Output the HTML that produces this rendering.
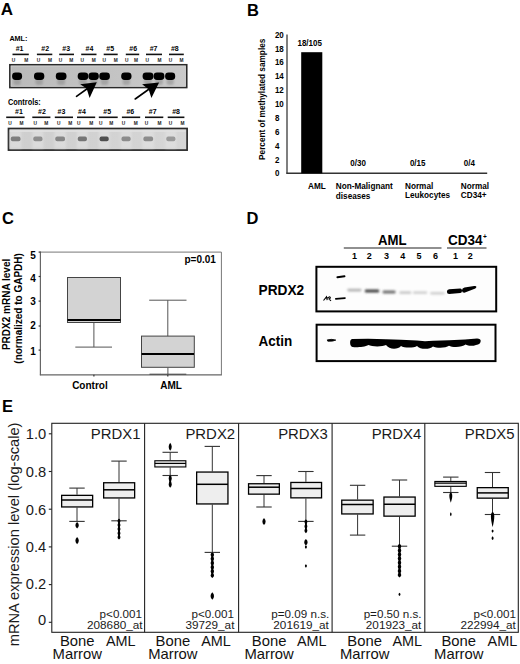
<!DOCTYPE html>
<html><head><meta charset="utf-8"><title>Figure</title>
<style>
html,body{margin:0;padding:0;background:#fff;}
body{width:520px;height:664px;overflow:hidden;}
svg{display:block;font-family:"Liberation Sans", sans-serif;}
</style></head><body>
<svg width="520" height="664" viewBox="0 0 520 664">
<rect x="0" y="0" width="520" height="664" fill="#fff"/>
<defs>
<linearGradient id="gelA" x1="0" y1="0" x2="1" y2="0">
 <stop offset="0" stop-color="#bababa"/><stop offset="0.5" stop-color="#c2c2c2"/><stop offset="1" stop-color="#cacaca"/>
</linearGradient>
<linearGradient id="gelC" x1="0" y1="0" x2="1" y2="0">
 <stop offset="0" stop-color="#cecece"/><stop offset="1" stop-color="#d6d6d6"/>
</linearGradient>
<filter id="bl1" x="-30%" y="-50%" width="160%" height="200%"><feGaussianBlur stdDeviation="0.9"/></filter>
<filter id="bl2" x="-30%" y="-50%" width="160%" height="200%"><feGaussianBlur stdDeviation="0.6"/></filter>
<filter id="bl3" x="-30%" y="-50%" width="160%" height="200%"><feGaussianBlur stdDeviation="1.2"/></filter>
</defs>
<text x="0.8" y="15.4" font-size="17" font-weight="bold" fill="#000" >A</text>
<text transform="translate(9.4,40.5) scale(1.0,1.1)" font-size="7.2" font-weight="bold" fill="#000" >AML:</text>
<text transform="translate(19.6,51.3) scale(1.0,1.15)" font-size="7" font-weight="bold" text-anchor="middle" fill="#000" >#1</text>
<line x1="12.5" y1="54.4" x2="28.8" y2="54.4" stroke="#111" stroke-width="1.6" />
<text x="13.5" y="61.5" font-size="4.8" font-weight="bold" text-anchor="middle" fill="#1a1a1a" >U</text>
<text x="26.3" y="61.5" font-size="4.8" font-weight="bold" text-anchor="middle" fill="#1a1a1a" >M</text>
<text transform="translate(45.2,51.3) scale(1.0,1.15)" font-size="7" font-weight="bold" text-anchor="middle" fill="#000" >#2</text>
<line x1="36.9" y1="54.4" x2="52.3" y2="54.4" stroke="#111" stroke-width="1.6" />
<text x="38.5" y="61.5" font-size="4.8" font-weight="bold" text-anchor="middle" fill="#1a1a1a" >U</text>
<text x="50.0" y="61.5" font-size="4.8" font-weight="bold" text-anchor="middle" fill="#1a1a1a" >M</text>
<text transform="translate(66.2,51.3) scale(1.0,1.15)" font-size="7" font-weight="bold" text-anchor="middle" fill="#000" >#3</text>
<line x1="59.2" y1="54.4" x2="74.0" y2="54.4" stroke="#111" stroke-width="1.6" />
<text x="60.6" y="61.5" font-size="4.8" font-weight="bold" text-anchor="middle" fill="#1a1a1a" >U</text>
<text x="71.2" y="61.5" font-size="4.8" font-weight="bold" text-anchor="middle" fill="#1a1a1a" >M</text>
<text transform="translate(89.4,51.3) scale(1.0,1.15)" font-size="7" font-weight="bold" text-anchor="middle" fill="#000" >#4</text>
<line x1="81.2" y1="54.4" x2="96.5" y2="54.4" stroke="#111" stroke-width="1.6" />
<text x="82.3" y="61.5" font-size="4.8" font-weight="bold" text-anchor="middle" fill="#1a1a1a" >U</text>
<text x="93.7" y="61.5" font-size="4.8" font-weight="bold" text-anchor="middle" fill="#1a1a1a" >M</text>
<text transform="translate(110.2,51.3) scale(1.0,1.15)" font-size="7" font-weight="bold" text-anchor="middle" fill="#000" >#5</text>
<line x1="103.7" y1="54.4" x2="117.7" y2="54.4" stroke="#111" stroke-width="1.6" />
<text x="104.2" y="61.5" font-size="4.8" font-weight="bold" text-anchor="middle" fill="#1a1a1a" >U</text>
<text x="115.8" y="61.5" font-size="4.8" font-weight="bold" text-anchor="middle" fill="#1a1a1a" >M</text>
<text transform="translate(133.2,51.3) scale(1.0,1.15)" font-size="7" font-weight="bold" text-anchor="middle" fill="#000" >#6</text>
<line x1="125.8" y1="54.4" x2="139.2" y2="54.4" stroke="#111" stroke-width="1.6" />
<text x="126.7" y="61.5" font-size="4.8" font-weight="bold" text-anchor="middle" fill="#1a1a1a" >U</text>
<text x="136.0" y="61.5" font-size="4.8" font-weight="bold" text-anchor="middle" fill="#1a1a1a" >M</text>
<text transform="translate(153.6,51.3) scale(1.0,1.15)" font-size="7" font-weight="bold" text-anchor="middle" fill="#000" >#7</text>
<line x1="146.0" y1="54.4" x2="162.0" y2="54.4" stroke="#111" stroke-width="1.6" />
<text x="147.3" y="61.5" font-size="4.8" font-weight="bold" text-anchor="middle" fill="#1a1a1a" >U</text>
<text x="159.4" y="61.5" font-size="4.8" font-weight="bold" text-anchor="middle" fill="#1a1a1a" >M</text>
<text transform="translate(174.8,51.3) scale(1.0,1.15)" font-size="7" font-weight="bold" text-anchor="middle" fill="#000" >#8</text>
<line x1="169.0" y1="54.4" x2="183.8" y2="54.4" stroke="#111" stroke-width="1.6" />
<text x="170.4" y="61.5" font-size="4.8" font-weight="bold" text-anchor="middle" fill="#1a1a1a" >U</text>
<text x="181.5" y="61.5" font-size="4.8" font-weight="bold" text-anchor="middle" fill="#1a1a1a" >M</text>
<rect x="9.9" y="64.8" width="176.8" height="22.7" fill="url(#gelA)" stroke="#2a2a2a" stroke-width="1.7" />
<rect x="11.1" y="66.0" width="174.4" height="20.3" fill="none" stroke="#d2d2d2" stroke-width="0.8" />
<g filter="url(#bl3)">
<rect x="13.6" y="78.5" width="7.0" height="6.5" rx="2" fill="#8a8a8a" opacity="0.55"/>
<rect x="35.5" y="78.5" width="7.3" height="6.5" rx="2" fill="#8a8a8a" opacity="0.55"/>
<rect x="57.300000000000004" y="78.5" width="7.7" height="6.5" rx="2" fill="#8a8a8a" opacity="0.55"/>
<rect x="79.2" y="78.5" width="7.6" height="6.5" rx="2" fill="#8a8a8a" opacity="0.55"/>
<rect x="90.0" y="78.5" width="7.3" height="6.5" rx="2" fill="#8a8a8a" opacity="0.55"/>
<rect x="100.8" y="78.5" width="7.6" height="6.5" rx="2" fill="#8a8a8a" opacity="0.55"/>
<rect x="122.7" y="78.5" width="7.3" height="6.5" rx="2" fill="#8a8a8a" opacity="0.55"/>
<rect x="144.1" y="78.5" width="7.8" height="6.5" rx="2" fill="#8a8a8a" opacity="0.55"/>
<rect x="155.1" y="78.5" width="7.8" height="6.5" rx="2" fill="#8a8a8a" opacity="0.55"/>
<rect x="166.6" y="78.5" width="7.1" height="6.5" rx="2" fill="#8a8a8a" opacity="0.55"/>
</g>
<g filter="url(#bl2)">
<rect x="12.1" y="72.4" width="10.0" height="7.6" rx="3.4" fill="#000"/>
<rect x="34.0" y="72.4" width="10.3" height="7.6" rx="3.4" fill="#000"/>
<rect x="55.800000000000004" y="72.4" width="10.7" height="7.6" rx="3.4" fill="#000"/>
<rect x="77.7" y="72.4" width="10.6" height="7.6" rx="3.4" fill="#000"/>
<rect x="88.5" y="72.4" width="10.3" height="7.6" rx="3.4" fill="#000"/>
<rect x="99.3" y="72.4" width="10.6" height="7.6" rx="3.4" fill="#000"/>
<rect x="121.2" y="72.4" width="10.3" height="7.6" rx="3.4" fill="#000"/>
<rect x="142.6" y="72.4" width="10.8" height="7.6" rx="3.4" fill="#000"/>
<rect x="153.6" y="72.4" width="10.8" height="7.6" rx="3.4" fill="#000"/>
<rect x="165.1" y="72.4" width="10.1" height="7.6" rx="3.4" fill="#000"/>
</g>
<text transform="translate(8.0,105.1) scale(1.0,1.1)" font-size="7.4" font-weight="bold" fill="#000" >Controls:</text>
<text transform="translate(19.0,113.9) scale(1.0,1.15)" font-size="7" font-weight="bold" text-anchor="middle" fill="#000" >#1</text>
<line x1="6.2" y1="117.3" x2="24.6" y2="117.3" stroke="#111" stroke-width="1.6" />
<text x="10.0" y="124.9" font-size="4.8" font-weight="bold" text-anchor="middle" fill="#1a1a1a" >U</text>
<text x="21.5" y="124.9" font-size="4.8" font-weight="bold" text-anchor="middle" fill="#1a1a1a" >M</text>
<text transform="translate(42.0,113.9) scale(1.0,1.15)" font-size="7" font-weight="bold" text-anchor="middle" fill="#000" >#2</text>
<line x1="32.3" y1="117.3" x2="50.4" y2="117.3" stroke="#111" stroke-width="1.6" />
<text x="35.2" y="124.9" font-size="4.8" font-weight="bold" text-anchor="middle" fill="#1a1a1a" >U</text>
<text x="46.2" y="124.9" font-size="4.8" font-weight="bold" text-anchor="middle" fill="#1a1a1a" >M</text>
<text transform="translate(61.4,113.9) scale(1.0,1.15)" font-size="7" font-weight="bold" text-anchor="middle" fill="#000" >#3</text>
<line x1="54.8" y1="117.3" x2="73.0" y2="117.3" stroke="#111" stroke-width="1.6" />
<text x="58.7" y="124.9" font-size="4.8" font-weight="bold" text-anchor="middle" fill="#1a1a1a" >U</text>
<text x="70.2" y="124.9" font-size="4.8" font-weight="bold" text-anchor="middle" fill="#1a1a1a" >M</text>
<text transform="translate(82.0,113.9) scale(1.0,1.15)" font-size="7" font-weight="bold" text-anchor="middle" fill="#000" >#4</text>
<line x1="77.0" y1="117.3" x2="95.2" y2="117.3" stroke="#111" stroke-width="1.6" />
<text x="78.8" y="124.9" font-size="4.8" font-weight="bold" text-anchor="middle" fill="#1a1a1a" >U</text>
<text x="91.3" y="124.9" font-size="4.8" font-weight="bold" text-anchor="middle" fill="#1a1a1a" >M</text>
<text transform="translate(107.2,113.9) scale(1.0,1.15)" font-size="7" font-weight="bold" text-anchor="middle" fill="#000" >#5</text>
<line x1="98.8" y1="117.3" x2="117.7" y2="117.3" stroke="#111" stroke-width="1.6" />
<text x="100.8" y="124.9" font-size="4.8" font-weight="bold" text-anchor="middle" fill="#1a1a1a" >U</text>
<text x="111.3" y="124.9" font-size="4.8" font-weight="bold" text-anchor="middle" fill="#1a1a1a" >M</text>
<text transform="translate(130.3,113.9) scale(1.0,1.15)" font-size="7" font-weight="bold" text-anchor="middle" fill="#000" >#6</text>
<line x1="121.9" y1="117.3" x2="140.2" y2="117.3" stroke="#111" stroke-width="1.6" />
<text x="123.5" y="124.9" font-size="4.8" font-weight="bold" text-anchor="middle" fill="#1a1a1a" >U</text>
<text x="135.8" y="124.9" font-size="4.8" font-weight="bold" text-anchor="middle" fill="#1a1a1a" >M</text>
<text transform="translate(152.7,113.9) scale(1.0,1.15)" font-size="7" font-weight="bold" text-anchor="middle" fill="#000" >#7</text>
<line x1="145.0" y1="117.3" x2="163.3" y2="117.3" stroke="#111" stroke-width="1.6" />
<text x="146.5" y="124.9" font-size="4.8" font-weight="bold" text-anchor="middle" fill="#1a1a1a" >U</text>
<text x="159.4" y="124.9" font-size="4.8" font-weight="bold" text-anchor="middle" fill="#1a1a1a" >M</text>
<text transform="translate(176.1,113.9) scale(1.0,1.15)" font-size="7" font-weight="bold" text-anchor="middle" fill="#000" >#8</text>
<line x1="167.7" y1="117.3" x2="184.4" y2="117.3" stroke="#111" stroke-width="1.6" />
<text x="170.4" y="124.9" font-size="4.8" font-weight="bold" text-anchor="middle" fill="#1a1a1a" >U</text>
<text x="182.5" y="124.9" font-size="4.8" font-weight="bold" text-anchor="middle" fill="#1a1a1a" >M</text>
<rect x="8.5" y="128.5" width="178.6" height="21.6" fill="url(#gelC)" stroke="#2a2a2a" stroke-width="1.7" />
<rect x="9.8" y="129.8" width="176.0" height="2.2" fill="#dedede" stroke="none" stroke-width="1" />
<g filter="url(#bl3)">
<rect x="9.8" y="131" width="11.7" height="17.5" fill="#e2e2e2" opacity="0.6"/>
<rect x="32.3" y="131" width="11.2" height="17.5" fill="#e2e2e2" opacity="0.6"/>
<rect x="54.3" y="131" width="11.7" height="17.5" fill="#e2e2e2" opacity="0.6"/>
<rect x="76.8" y="131" width="11.1" height="17.5" fill="#e2e2e2" opacity="0.6"/>
<rect x="98.6" y="131" width="11.1" height="17.5" fill="#e2e2e2" opacity="0.6"/>
<rect x="120.5" y="131" width="11.1" height="17.5" fill="#e2e2e2" opacity="0.6"/>
<rect x="142.4" y="131" width="11.7" height="17.5" fill="#e2e2e2" opacity="0.6"/>
<rect x="165.3" y="131" width="11.1" height="17.5" fill="#e2e2e2" opacity="0.6"/>
</g>
<g filter="url(#bl2)">
<rect x="10.8" y="136.6" width="9.7" height="4.6" rx="1.8" fill="#7e7e7e"/>
<rect x="33.3" y="136.6" width="9.2" height="4.6" rx="1.8" fill="#8e8e8e"/>
<rect x="55.3" y="136.6" width="9.7" height="4.6" rx="1.8" fill="#868686"/>
<rect x="77.8" y="136.6" width="9.1" height="4.6" rx="1.8" fill="#747474"/>
<rect x="99.6" y="136.6" width="9.1" height="4.6" rx="1.8" fill="#505050"/>
<rect x="121.5" y="136.6" width="9.1" height="4.6" rx="1.8" fill="#8c8c8c"/>
<rect x="143.4" y="136.6" width="9.7" height="4.6" rx="1.8" fill="#8c8c8c"/>
<rect x="166.3" y="136.6" width="9.1" height="4.6" rx="1.8" fill="#9a9a9a"/>
</g>
<path d="M96.8,82.2 L80.2,84.2 L86.6,88.6 L89.6,97.9 Z" fill="#000"/>
<line x1="76.5" y1="96.4" x2="87.5" y2="88.5" stroke="#000" stroke-width="1.6" stroke-linecap="round"/>
<path d="M159.1,82.6 L142.1,84.3 L148.6,89.2 L151.4,97.9 Z" fill="#000"/>
<line x1="135.2" y1="99.0" x2="148.5" y2="89.5" stroke="#000" stroke-width="1.6" stroke-linecap="round"/>
<text x="247" y="15.6" font-size="16.5" font-weight="bold" fill="#000" >B</text>
<line x1="287.0" y1="34.6" x2="287.0" y2="173.6" stroke="#555" stroke-width="1.5" />
<line x1="286.3" y1="173.3" x2="487.2" y2="173.3" stroke="#333" stroke-width="1.4" />
<text transform="translate(274.9,176.4) scale(1.0,1.15)" font-size="8" font-weight="bold" fill="#000" >0</text>
<text transform="translate(274.9,162.53) scale(1.0,1.15)" font-size="8" font-weight="bold" fill="#000" >2</text>
<text transform="translate(274.9,148.66) scale(1.0,1.15)" font-size="8" font-weight="bold" fill="#000" >4</text>
<text transform="translate(274.9,134.79) scale(1.0,1.15)" font-size="8" font-weight="bold" fill="#000" >6</text>
<text transform="translate(274.9,120.92) scale(1.0,1.15)" font-size="8" font-weight="bold" fill="#000" >8</text>
<text transform="translate(274.9,107.05) scale(1.0,1.15)" font-size="8" font-weight="bold" fill="#000" >10</text>
<text transform="translate(274.9,93.18) scale(1.0,1.15)" font-size="8" font-weight="bold" fill="#000" >12</text>
<text transform="translate(274.9,79.31) scale(1.0,1.15)" font-size="8" font-weight="bold" fill="#000" >14</text>
<text transform="translate(274.9,65.44) scale(1.0,1.15)" font-size="8" font-weight="bold" fill="#000" >16</text>
<text transform="translate(274.9,51.57) scale(1.0,1.15)" font-size="8" font-weight="bold" fill="#000" >18</text>
<text transform="translate(274.9,37.7) scale(1.0,1.15)" font-size="8" font-weight="bold" fill="#000" >20</text>
<rect x="301.2" y="52.2" width="21.1" height="121.1" fill="#000" stroke="none" stroke-width="1" />
<text transform="translate(309.7,46.0) scale(1.0,1.15)" font-size="8" font-weight="bold" text-anchor="middle" fill="#000" >18/105</text>
<text transform="translate(358.1,165.8) scale(1.0,1.15)" font-size="8" font-weight="bold" text-anchor="middle" fill="#000" >0/30</text>
<text transform="translate(417.7,165.8) scale(1.0,1.15)" font-size="8" font-weight="bold" text-anchor="middle" fill="#000" >0/15</text>
<text transform="translate(469.3,165.8) scale(1.0,1.15)" font-size="8" font-weight="bold" text-anchor="middle" fill="#000" >0/4</text>
<text transform="translate(308.1,188.8) scale(1.0,1.15)" font-size="8.2" font-weight="bold" fill="#000" >AML</text>
<text transform="translate(335.8,188.8) scale(1.0,1.15)" font-size="8.2" font-weight="bold" fill="#000" >Non-Malignant</text>
<text transform="translate(335.8,198.5) scale(1.0,1.15)" font-size="8.2" font-weight="bold" fill="#000" >diseases</text>
<text transform="translate(405.0,188.6) scale(1.0,1.15)" font-size="8.2" font-weight="bold" fill="#000" >Normal</text>
<text transform="translate(405.0,198.4) scale(1.0,1.15)" font-size="8.2" font-weight="bold" fill="#000" >Leukocytes</text>
<text transform="translate(460.8,188.6) scale(1.0,1.15)" font-size="8.2" font-weight="bold" fill="#000" >Normal</text>
<text transform="translate(460.8,198.4) scale(1.0,1.15)" font-size="8.2" font-weight="bold" fill="#000" >CD34+</text>
<text transform="translate(264.6,99.3) rotate(-90) scale(1,1.1)" font-size="8.25" font-weight="bold" text-anchor="middle">Percent of methylated samples</text>
<text x="2" y="224.2" font-size="16.5" font-weight="bold" fill="#000" >C</text>
<line x1="40.4" y1="252.1" x2="221.4" y2="252.1" stroke="#777" stroke-width="1" />
<line x1="221.4" y1="252.1" x2="221.4" y2="374.8" stroke="#777" stroke-width="1" />
<line x1="40.4" y1="251.6" x2="40.4" y2="375.3" stroke="#666" stroke-width="1.2" />
<line x1="39.9" y1="374.8" x2="221.9" y2="374.8" stroke="#666" stroke-width="1.2" />
<line x1="38.6" y1="350.1" x2="40.4" y2="350.1" stroke="#333" stroke-width="1.2" />
<text x="35.9" y="354.5" font-size="10" font-weight="bold" text-anchor="end" fill="#000" >1</text>
<line x1="38.6" y1="326.0" x2="40.4" y2="326.0" stroke="#333" stroke-width="1.2" />
<text x="35.9" y="329.1" font-size="10" font-weight="bold" text-anchor="end" fill="#000" >2</text>
<line x1="38.6" y1="301.1" x2="40.4" y2="301.1" stroke="#333" stroke-width="1.2" />
<text x="35.9" y="304.9" font-size="10" font-weight="bold" text-anchor="end" fill="#000" >3</text>
<line x1="38.6" y1="276.5" x2="40.4" y2="276.5" stroke="#333" stroke-width="1.2" />
<text x="35.9" y="281.9" font-size="10" font-weight="bold" text-anchor="end" fill="#000" >4</text>
<line x1="38.6" y1="252.1" x2="40.4" y2="252.1" stroke="#333" stroke-width="1.2" />
<text x="35.9" y="258.9" font-size="10" font-weight="bold" text-anchor="end" fill="#000" >5</text>
<line x1="93.9" y1="374.8" x2="93.9" y2="376.6" stroke="#333" stroke-width="1.2" />
<line x1="167.8" y1="374.8" x2="167.8" y2="376.6" stroke="#333" stroke-width="1.2" />
<line x1="93.9" y1="323.0" x2="93.9" y2="347.1" stroke="#555" stroke-width="1" />
<line x1="75.3" y1="347.1" x2="112.0" y2="347.1" stroke="#555" stroke-width="1" />
<rect x="67.5" y="277.5" width="53.0" height="45.0" fill="#d3d3d3" stroke="#444" stroke-width="1" />
<line x1="67.5" y1="319.9" x2="120.5" y2="319.9" stroke="#000" stroke-width="2.0" />
<line x1="167.8" y1="300.2" x2="167.8" y2="336.6" stroke="#555" stroke-width="1" />
<line x1="149.2" y1="300.2" x2="186.5" y2="300.2" stroke="#555" stroke-width="1" />
<line x1="167.9" y1="367.6" x2="167.9" y2="374.2" stroke="#555" stroke-width="1" />
<line x1="149.5" y1="374.2" x2="186.3" y2="374.2" stroke="#444" stroke-width="1" />
<rect x="141.5" y="336.1" width="52.8" height="31.2" fill="#d3d3d3" stroke="#444" stroke-width="1" />
<line x1="141.6" y1="354.0" x2="194.0" y2="354.0" stroke="#000" stroke-width="2.0" />
<text x="215.9" y="262.6" font-size="10" font-weight="bold" text-anchor="end" fill="#000" >p=0.01</text>
<text x="89.9" y="389.4" font-size="10" font-weight="bold" text-anchor="middle" fill="#000" >Control</text>
<text x="171.1" y="388.8" font-size="10" font-weight="bold" text-anchor="middle" fill="#000" >AML</text>
<text transform="translate(10.0,304.4) rotate(-90)" font-size="10" font-weight="bold" text-anchor="middle">PRDX2 mRNA level</text>
<text transform="translate(22.2,308.4) rotate(-90)" font-size="10" font-weight="bold" text-anchor="middle">(normalized to GAPDH)</text>
<text x="246.5" y="224.2" font-size="16.5" font-weight="bold" fill="#000" >D</text>
<text transform="translate(392.3,244.8) scale(1.0,1.08)" font-size="13.2" font-weight="bold" text-anchor="middle" fill="#000" >AML</text>
<text transform="translate(447.9,244.9) scale(1,1.1)" font-size="13.5" font-weight="bold">CD34<tspan font-size="6.5" dx="0.6" dy="-5.2">+</tspan></text>
<line x1="343.8" y1="248.0" x2="441.5" y2="248.0" stroke="#222" stroke-width="1.2" />
<line x1="447.0" y1="248.0" x2="486.5" y2="248.0" stroke="#222" stroke-width="1.2" />
<text x="354.4" y="259.4" font-size="9" font-weight="bold" text-anchor="middle" fill="#000" >1</text>
<text x="369.2" y="259.4" font-size="9" font-weight="bold" text-anchor="middle" fill="#000" >2</text>
<text x="386.4" y="259.4" font-size="9" font-weight="bold" text-anchor="middle" fill="#000" >3</text>
<text x="402.7" y="259.4" font-size="9" font-weight="bold" text-anchor="middle" fill="#000" >4</text>
<text x="419.0" y="259.4" font-size="9" font-weight="bold" text-anchor="middle" fill="#000" >5</text>
<text x="435.6" y="259.4" font-size="9" font-weight="bold" text-anchor="middle" fill="#000" >6</text>
<text x="455.6" y="259.4" font-size="9" font-weight="bold" text-anchor="middle" fill="#000" >1</text>
<text x="470.2" y="259.4" font-size="9" font-weight="bold" text-anchor="middle" fill="#000" >2</text>
<text transform="translate(258.5,294.8) scale(1.0,1.1)" font-size="13.7" font-weight="bold" fill="#000" >PRDX2</text>
<text transform="translate(258.5,346.4) scale(1.0,1.1)" font-size="13.5" font-weight="bold" fill="#000" >Actin</text>
<rect x="316.4" y="266.8" width="179.8" height="44.6" fill="#fdfdfd" stroke="#000" stroke-width="2" />
<rect x="316.6" y="324.7" width="178.9" height="36.4" fill="#fdfdfd" stroke="#000" stroke-width="2" />
<g filter="url(#bl2)">
<path d="M337.4,277.3 L344.5,276.3" stroke="#000" stroke-width="1.9" stroke-linecap="round"/>
<path d="M335.8,298.9 L345,298.1" stroke="#000" stroke-width="1.6" stroke-linecap="round"/>
<path d="M323.5,300.5 L326.5,296.8 L327.2,300.2 M326.6,298.4 L329.5,296.8 Q331.5,297.8 329,299 L331,300.8" stroke="#000" stroke-width="1.1" fill="none"/>
</g>
<g filter="url(#bl1)">
<rect x="347.2" y="288.7" width="14.4" height="2.8" rx="1.4" fill="#b4b4b4"/>
<rect x="364.8" y="289.4" width="14.4" height="3.2" rx="1.4" fill="#404040"/>
<rect x="382.6" y="290.4" width="13.0" height="3.2" rx="1.4" fill="#6e6e6e"/>
<rect x="399.2" y="291.3" width="12.2" height="2.8" rx="1.4" fill="#cacaca"/>
<rect x="412.9" y="291.3" width="14.4" height="2.8" rx="1.4" fill="#d2d2d2"/>
<rect x="430.2" y="292.1" width="14.4" height="2.4" rx="1.4" fill="#cecece"/>
</g>
<g filter="url(#bl2)">
<path d="M446.9,291.7 Q446.9,289.5 449.2,289.3 L460.3,288.6 Q461.9,288.6 462.1,290.7 Q461.9,292.9 460.3,293.0 L449.2,293.9 Q446.9,293.9 446.9,291.7 Z" fill="#000"/>
<path d="M461.9,290.4 Q462.1,287.9 464.5,287.5 L474.2,286.0 Q476.7,285.8 476.4,287.3 Q475.8,288.7 473.4,289.3 L465.0,292.6 Q462.1,293.0 461.9,290.4 Z" fill="#000"/>
<path d="M327.2,339.9 Q331.5,338.7 335.8,340.1 Q333,341.6 327.8,341.2 Z" fill="#000" stroke="#000" stroke-width="0.8"/>
<path d="M350.1,342.6 Q350.1,338.9 352.5,338.9 L368,338.7 L386,339.2 L401,339.8 L417,340.6 L425,341.3 L433,340.8 L449,340.2 L465,339.6 L477,338.5 Q480.9,338.6 480.7,341.0 Q480.6,344.3 476,345.0 C473.0,346.2 468.5,346.2 465.5,344.6 C462.5,347.6 452.0,347.6 449.0,345.8 C446.0,348.3 436.0,348.3 433.0,346.4 C430.0,349.7 420.0,349.7 417.0,346.0 C414.0,348.0 404.0,348.0 401.0,346.0 C398.0,349.7 389.0,349.7 386.0,345.0 C383.0,346.9 371.5,346.9 368.5,345.0 C364.5,347.4 355,347.4 352.5,347.0 Q350.1,346.4 350.1,342.6 Z" fill="#000"/>
</g>
<text x="2.0" y="412.4" font-size="16.5" font-weight="bold" fill="#000" >E</text>
<rect x="51.8" y="423.3" width="466.49999999999994" height="208.99999999999994" fill="none" stroke="#222" stroke-width="1.1" />
<line x1="144.6" y1="423.3" x2="144.6" y2="632.3" stroke="#222" stroke-width="1.1" />
<line x1="238.6" y1="423.3" x2="238.6" y2="632.3" stroke="#222" stroke-width="1.1" />
<line x1="332.1" y1="423.3" x2="332.1" y2="632.3" stroke="#222" stroke-width="1.1" />
<line x1="424.8" y1="423.3" x2="424.8" y2="632.3" stroke="#222" stroke-width="1.1" />
<line x1="48.8" y1="622.3" x2="51.8" y2="622.3" stroke="#222" stroke-width="1.1" />
<text transform="translate(46.2,624.6) scale(1.05,1.0)" font-size="14" text-anchor="end" fill="#1a1a1a" >0</text>
<line x1="48.8" y1="584.6" x2="51.8" y2="584.6" stroke="#222" stroke-width="1.1" />
<text transform="translate(46.2,588.6) scale(1.05,1.0)" font-size="14" text-anchor="end" fill="#1a1a1a" >0.2</text>
<line x1="48.8" y1="546.9" x2="51.8" y2="546.9" stroke="#222" stroke-width="1.1" />
<text transform="translate(46.2,551.8) scale(1.05,1.0)" font-size="14" text-anchor="end" fill="#1a1a1a" >0.4</text>
<line x1="48.8" y1="509.2" x2="51.8" y2="509.2" stroke="#222" stroke-width="1.1" />
<text transform="translate(46.2,514.5) scale(1.05,1.0)" font-size="14" text-anchor="end" fill="#1a1a1a" >0.6</text>
<line x1="48.8" y1="471.5" x2="51.8" y2="471.5" stroke="#222" stroke-width="1.1" />
<text transform="translate(46.2,476.8) scale(1.05,1.0)" font-size="14" text-anchor="end" fill="#1a1a1a" >0.8</text>
<line x1="48.8" y1="433.8" x2="51.8" y2="433.8" stroke="#222" stroke-width="1.1" />
<text transform="translate(46.2,438.9) scale(1.05,1.0)" font-size="14" text-anchor="end" fill="#1a1a1a" >1.0</text>
<text transform="translate(18.6,534.4) rotate(-90)" font-size="14.65" text-anchor="middle" fill="#1a1a1a">mRNA expression level (log-scale)</text>
<text transform="translate(140.5,438.8) scale(1.035,1.0)" font-size="14.4" text-anchor="end" fill="#1a1a1a" >PRDX1</text>
<text transform="translate(142.05,617.9) scale(1.05,1.0)" font-size="11.1" text-anchor="end" fill="#1a1a1a" >p&lt;0.001</text>
<text transform="translate(142.5,628.7) scale(1.03,1.0)" font-size="11.4" text-anchor="end" fill="#1a1a1a" >208680_at</text>
<text transform="translate(235.1,438.8) scale(1.035,1.0)" font-size="14.4" text-anchor="end" fill="#1a1a1a" >PRDX2</text>
<text transform="translate(233.9,617.9) scale(1.05,1.0)" font-size="11.1" text-anchor="end" fill="#1a1a1a" >p&lt;0.001</text>
<text transform="translate(234.4,628.7) scale(1.03,1.0)" font-size="11.4" text-anchor="end" fill="#1a1a1a" >39729_at</text>
<text transform="translate(327.8,438.8) scale(1.035,1.0)" font-size="14.4" text-anchor="end" fill="#1a1a1a" >PRDX3</text>
<text transform="translate(329.2,617.9) scale(1.05,1.0)" font-size="11.1" text-anchor="end" fill="#1a1a1a" >p=0.09 n.s.</text>
<text transform="translate(328.8,628.7) scale(1.03,1.0)" font-size="11.4" text-anchor="end" fill="#1a1a1a" >201619_at</text>
<text transform="translate(421.3,438.8) scale(1.035,1.0)" font-size="14.4" text-anchor="end" fill="#1a1a1a" >PRDX4</text>
<text transform="translate(421.6,617.9) scale(1.05,1.0)" font-size="11.1" text-anchor="end" fill="#1a1a1a" >p=0.50 n.s.</text>
<text transform="translate(421.3,628.7) scale(1.03,1.0)" font-size="11.4" text-anchor="end" fill="#1a1a1a" >201923_at</text>
<text transform="translate(514.5,438.8) scale(1.035,1.0)" font-size="14.4" text-anchor="end" fill="#1a1a1a" >PRDX5</text>
<text transform="translate(516.0,617.9) scale(1.05,1.0)" font-size="11.1" text-anchor="end" fill="#1a1a1a" >p&lt;0.001</text>
<text transform="translate(515.9,628.7) scale(1.03,1.0)" font-size="11.4" text-anchor="end" fill="#1a1a1a" >222994_at</text>
<line x1="77.0" y1="488.1" x2="77.0" y2="494.7" stroke="#333" stroke-width="1" />
<line x1="77.0" y1="507.6" x2="77.0" y2="521.4" stroke="#333" stroke-width="1" />
<line x1="69.3" y1="488.1" x2="84.7" y2="488.1" stroke="#333" stroke-width="1.1" />
<line x1="69.3" y1="521.4" x2="84.7" y2="521.4" stroke="#333" stroke-width="1.1" />
<rect x="61.65" y="495.35" width="31.0" height="11.6" fill="#eeeeee" stroke="#000" stroke-width="1.3" />
<line x1="61.65" y1="500.0" x2="92.64999999999999" y2="500.0" stroke="#000" stroke-width="1.5" />
<path d="M77.1,521.9 C79.41,523.75 79.41,526.65 77.1,528.5 C74.79,526.65 74.79,523.75 77.1,521.9 Z" fill="#000"/>
<path d="M77.1,536.9 C79.41,538.94 79.41,542.16 77.1,544.2 C74.79,542.16 74.79,538.94 77.1,536.9 Z" fill="#000"/>
<line x1="119.0" y1="461.1" x2="119.0" y2="482.1" stroke="#333" stroke-width="1" />
<line x1="119.0" y1="498.6" x2="119.0" y2="520.8" stroke="#333" stroke-width="1" />
<line x1="111.3" y1="461.1" x2="126.7" y2="461.1" stroke="#333" stroke-width="1.1" />
<line x1="111.3" y1="520.8" x2="126.7" y2="520.8" stroke="#333" stroke-width="1.1" />
<rect x="103.65" y="482.75" width="31.0" height="15.2" fill="#eeeeee" stroke="#000" stroke-width="1.3" />
<line x1="103.65" y1="489.8" x2="134.65" y2="489.8" stroke="#000" stroke-width="1.5" />
<rect x="118.1" y="519.5" width="1.8" height="17.8" fill="#000"/>
<path d="M119.0,518.5 C120.97,519.86 120.97,522.0 119.0,523.36 C117.03,522.0 117.03,519.86 119.0,518.5 Z" fill="#000"/>
<path d="M119.0,522.56 C120.97,523.92 120.97,526.06 119.0,527.42 C117.03,526.06 117.03,523.92 119.0,522.56 Z" fill="#000"/>
<path d="M119.0,526.62 C120.97,527.98 120.97,530.12 119.0,531.48 C117.03,530.12 117.03,527.98 119.0,526.62 Z" fill="#000"/>
<path d="M119.0,530.68 C120.97,532.04 120.97,534.18 119.0,535.54 C117.03,534.18 117.03,532.04 119.0,530.68 Z" fill="#000"/>
<path d="M119.0,534.74 C120.97,536.1 120.97,538.24 119.0,539.6 C117.03,538.24 117.03,536.1 119.0,534.74 Z" fill="#000"/>
<line x1="170.2" y1="452.3" x2="170.2" y2="460.2" stroke="#333" stroke-width="1" />
<line x1="170.2" y1="467.5" x2="170.2" y2="475.5" stroke="#333" stroke-width="1" />
<line x1="162.5" y1="452.3" x2="177.89999999999998" y2="452.3" stroke="#333" stroke-width="1.1" />
<line x1="162.5" y1="475.5" x2="177.89999999999998" y2="475.5" stroke="#333" stroke-width="1.1" />
<rect x="154.85" y="460.75" width="31.0" height="6.2" fill="#eeeeee" stroke="#000" stroke-width="1.1" />
<line x1="154.85000000000002" y1="463.4" x2="185.85" y2="463.4" stroke="#000" stroke-width="1.2" />
<path d="M170.2,442.7 C172.24,444.97 172.24,448.53 170.2,450.8 C168.16,448.53 168.16,444.97 170.2,442.7 Z" fill="#000"/>
<rect x="169.27" y="476.0" width="1.86" height="9.5" fill="#000"/>
<path d="M170.2,475.0 C172.24,476.9 172.24,479.9 170.2,481.8 C168.16,479.9 168.16,476.9 170.2,475.0 Z" fill="#000"/>
<path d="M170.2,481.0 C172.24,482.9 172.24,485.9 170.2,487.8 C168.16,485.9 168.16,482.9 170.2,481.0 Z" fill="#000"/>
<line x1="212.3" y1="446.4" x2="212.3" y2="471.4" stroke="#333" stroke-width="1" />
<line x1="212.3" y1="504.6" x2="212.3" y2="552.4" stroke="#333" stroke-width="1" />
<line x1="204.60000000000002" y1="446.4" x2="220.0" y2="446.4" stroke="#333" stroke-width="1.1" />
<line x1="204.60000000000002" y1="552.4" x2="220.0" y2="552.4" stroke="#333" stroke-width="1.1" />
<rect x="196.65" y="472.05" width="31.3" height="31.9" fill="#eeeeee" stroke="#000" stroke-width="1.3" />
<line x1="196.65" y1="484.3" x2="227.95" y2="484.3" stroke="#000" stroke-width="1.5" />
<rect x="211.25" y="553.2" width="2.11" height="22.5" fill="#000"/>
<path d="M212.3,552.2 C214.61,553.59 214.61,555.78 212.3,557.17 C209.99,555.78 209.99,553.59 212.3,552.2 Z" fill="#000"/>
<path d="M212.3,556.37 C214.61,557.76 214.61,559.94 212.3,561.33 C209.99,559.94 209.99,557.76 212.3,556.37 Z" fill="#000"/>
<path d="M212.3,560.53 C214.61,561.92 214.61,564.11 212.3,565.5 C209.99,564.11 209.99,561.92 212.3,560.53 Z" fill="#000"/>
<path d="M212.3,564.7 C214.61,566.09 214.61,568.28 212.3,569.67 C209.99,568.28 209.99,566.09 212.3,564.7 Z" fill="#000"/>
<path d="M212.3,568.87 C214.61,570.26 214.61,572.44 212.3,573.83 C209.99,572.44 209.99,570.26 212.3,568.87 Z" fill="#000"/>
<path d="M212.3,573.03 C214.61,574.42 214.61,576.61 212.3,578.0 C209.99,576.61 209.99,574.42 212.3,573.03 Z" fill="#000"/>
<path d="M212.3,592.3 C214.61,594.37 214.61,597.63 212.3,599.7 C209.99,597.63 209.99,594.37 212.3,592.3 Z" fill="#000"/>
<line x1="264.0" y1="475.6" x2="264.0" y2="483.1" stroke="#333" stroke-width="1" />
<line x1="264.0" y1="494.8" x2="264.0" y2="507.0" stroke="#333" stroke-width="1" />
<line x1="256.3" y1="475.6" x2="271.7" y2="475.6" stroke="#333" stroke-width="1.1" />
<line x1="256.3" y1="507.0" x2="271.7" y2="507.0" stroke="#333" stroke-width="1.1" />
<rect x="248.55" y="483.75" width="30.8" height="10.4" fill="#eeeeee" stroke="#000" stroke-width="1.3" />
<line x1="248.55" y1="487.2" x2="279.35" y2="487.2" stroke="#000" stroke-width="1.5" />
<path d="M264.0,517.9 C266.18,519.92 266.18,523.08 264.0,525.1 C261.82,523.08 261.82,519.92 264.0,517.9 Z" fill="#000"/>
<line x1="305.9" y1="471.5" x2="305.9" y2="481.8" stroke="#333" stroke-width="1" />
<line x1="305.9" y1="498.5" x2="305.9" y2="521.4" stroke="#333" stroke-width="1" />
<line x1="298.2" y1="471.5" x2="313.59999999999997" y2="471.5" stroke="#333" stroke-width="1.1" />
<line x1="298.2" y1="521.4" x2="313.59999999999997" y2="521.4" stroke="#333" stroke-width="1.1" />
<rect x="290.85" y="482.45" width="30.7" height="15.4" fill="#eeeeee" stroke="#000" stroke-width="1.3" />
<line x1="290.84999999999997" y1="488.5" x2="321.55" y2="488.5" stroke="#000" stroke-width="1.5" />
<rect x="305.0" y="520.3" width="1.8" height="10.7" fill="#000"/>
<path d="M305.9,519.3 C307.87,520.76 307.87,523.04 305.9,524.5 C303.93,523.04 303.93,520.76 305.9,519.3 Z" fill="#000"/>
<path d="M305.9,523.7 C307.87,525.16 307.87,527.44 305.9,528.9 C303.93,527.44 303.93,525.16 305.9,523.7 Z" fill="#000"/>
<path d="M305.9,528.1 C307.87,529.56 307.87,531.84 305.9,533.3 C303.93,531.84 303.93,529.56 305.9,528.1 Z" fill="#000"/>
<path d="M305.9,538.9 C308.21,540.78 308.21,543.72 305.9,545.6 C303.59,543.72 303.59,540.78 305.9,538.9 Z" fill="#000"/>
<path d="M305.9,545.2 C307.26,546.21 307.26,547.79 305.9,548.8 C304.54,547.79 304.54,546.21 305.9,545.2 Z" fill="#000"/>
<path d="M305.9,564.3 C307.26,565.25 307.26,566.75 305.9,567.7 C304.54,566.75 304.54,565.25 305.9,564.3 Z" fill="#000"/>
<line x1="357.6" y1="485.3" x2="357.6" y2="499.5" stroke="#333" stroke-width="1" />
<line x1="357.6" y1="514.6" x2="357.6" y2="535.1" stroke="#333" stroke-width="1" />
<line x1="349.90000000000003" y1="485.3" x2="365.3" y2="485.3" stroke="#333" stroke-width="1.1" />
<line x1="349.90000000000003" y1="535.1" x2="365.3" y2="535.1" stroke="#333" stroke-width="1.1" />
<rect x="341.75" y="500.15" width="31.4" height="13.8" fill="#eeeeee" stroke="#000" stroke-width="1.3" />
<line x1="341.75" y1="504.6" x2="373.15000000000003" y2="504.6" stroke="#000" stroke-width="1.5" />
<line x1="399.5" y1="480.0" x2="399.5" y2="496.4" stroke="#333" stroke-width="1" />
<line x1="399.5" y1="516.8" x2="399.5" y2="546.2" stroke="#333" stroke-width="1" />
<line x1="391.8" y1="480.0" x2="407.2" y2="480.0" stroke="#333" stroke-width="1.1" />
<line x1="391.8" y1="546.2" x2="407.2" y2="546.2" stroke="#333" stroke-width="1.1" />
<rect x="383.95" y="497.05" width="31.2" height="19.1" fill="#eeeeee" stroke="#000" stroke-width="1.3" />
<line x1="383.95" y1="504.2" x2="415.15000000000003" y2="504.2" stroke="#000" stroke-width="1.5" />
<rect x="398.42" y="544.8" width="2.17" height="30.3" fill="#000"/>
<path d="M399.5,543.8 C401.88,545.17 401.88,547.33 399.5,548.7 C397.12,547.33 397.12,545.17 399.5,543.8 Z" fill="#000"/>
<path d="M399.5,547.9 C401.88,549.27 401.88,551.43 399.5,552.8 C397.12,551.43 397.12,549.27 399.5,547.9 Z" fill="#000"/>
<path d="M399.5,552.0 C401.88,553.37 401.88,555.53 399.5,556.9 C397.12,555.53 397.12,553.37 399.5,552.0 Z" fill="#000"/>
<path d="M399.5,556.1 C401.88,557.47 401.88,559.63 399.5,561.0 C397.12,559.63 397.12,557.47 399.5,556.1 Z" fill="#000"/>
<path d="M399.5,560.2 C401.88,561.57 401.88,563.73 399.5,565.1 C397.12,563.73 397.12,561.57 399.5,560.2 Z" fill="#000"/>
<path d="M399.5,564.3 C401.88,565.67 401.88,567.83 399.5,569.2 C397.12,567.83 397.12,565.67 399.5,564.3 Z" fill="#000"/>
<path d="M399.5,568.4 C401.88,569.77 401.88,571.93 399.5,573.3 C397.12,571.93 397.12,569.77 399.5,568.4 Z" fill="#000"/>
<path d="M399.5,572.5 C401.88,573.87 401.88,576.03 399.5,577.4 C397.12,576.03 397.12,573.87 399.5,572.5 Z" fill="#000"/>
<path d="M399.5,592.7 C400.86,593.65 400.86,595.15 399.5,596.1 C398.14,595.15 398.14,593.65 399.5,592.7 Z" fill="#000"/>
<line x1="450.8" y1="477.1" x2="450.8" y2="480.9" stroke="#333" stroke-width="1" />
<line x1="450.8" y1="486.9" x2="450.8" y2="492.5" stroke="#333" stroke-width="1" />
<line x1="443.1" y1="477.1" x2="458.5" y2="477.1" stroke="#333" stroke-width="1.1" />
<line x1="443.1" y1="492.5" x2="458.5" y2="492.5" stroke="#333" stroke-width="1.1" />
<rect x="434.85" y="481.45" width="31.4" height="4.9" fill="#eeeeee" stroke="#000" stroke-width="1.1" />
<line x1="434.85" y1="483.1" x2="466.25" y2="483.1" stroke="#000" stroke-width="1.2" />
<path d="M450.8,492.3 C452.9,493.5 452.6,497.5 450.8,502.7 C449.0,497.5 448.7,493.5 450.8,492.3 Z" fill="#000"/>
<path d="M450.8,512.3 C451.89,513.39 451.89,515.11 450.8,516.2 C449.71,515.11 449.71,513.39 450.8,512.3 Z" fill="#000"/>
<line x1="492.5" y1="472.5" x2="492.5" y2="487.0" stroke="#333" stroke-width="1" />
<line x1="492.5" y1="498.8" x2="492.5" y2="514.5" stroke="#333" stroke-width="1" />
<line x1="484.8" y1="472.5" x2="500.2" y2="472.5" stroke="#333" stroke-width="1.1" />
<line x1="484.8" y1="514.5" x2="500.2" y2="514.5" stroke="#333" stroke-width="1.1" />
<rect x="477.25" y="487.65" width="31.0" height="10.5" fill="#eeeeee" stroke="#000" stroke-width="1.3" />
<line x1="477.25" y1="492.9" x2="508.25" y2="492.9" stroke="#000" stroke-width="1.5" />
<path d="M492.6,511.9 C494.9,512.5 494.8,518 492.6,527.3 C490.4,518 490.3,512.5 492.6,511.9 Z" fill="#000"/>
<path d="M492.6,529.6 C493.96,530.47 493.96,531.83 492.6,532.7 C491.24,531.83 491.24,530.47 492.6,529.6 Z" fill="#000"/>
<path d="M492.6,536.2 C493.96,537.26 493.96,538.94 492.6,540.0 C491.24,538.94 491.24,537.26 492.6,536.2 Z" fill="#000"/>
<text transform="translate(77.3,646.4) scale(1.06,1.0)" font-size="14" text-anchor="middle" fill="#111" >Bone</text>
<text transform="translate(77.3,659.3) scale(1.06,1.0)" font-size="14" text-anchor="middle" fill="#111" >Marrow</text>
<text transform="translate(120.8,646.4) scale(1.03,1.0)" font-size="14" text-anchor="middle" fill="#111" >AML</text>
<text transform="translate(172.85,646.4) scale(1.06,1.0)" font-size="14" text-anchor="middle" fill="#111" >Bone</text>
<text transform="translate(172.85,659.3) scale(1.06,1.0)" font-size="14" text-anchor="middle" fill="#111" >Marrow</text>
<text transform="translate(216.0,646.4) scale(1.03,1.0)" font-size="14" text-anchor="middle" fill="#111" >AML</text>
<text transform="translate(269.1,646.4) scale(1.06,1.0)" font-size="14" text-anchor="middle" fill="#111" >Bone</text>
<text transform="translate(269.1,659.3) scale(1.06,1.0)" font-size="14" text-anchor="middle" fill="#111" >Marrow</text>
<text transform="translate(311.75,646.4) scale(1.03,1.0)" font-size="14" text-anchor="middle" fill="#111" >AML</text>
<text transform="translate(364.65,646.4) scale(1.06,1.0)" font-size="14" text-anchor="middle" fill="#111" >Bone</text>
<text transform="translate(364.65,659.3) scale(1.06,1.0)" font-size="14" text-anchor="middle" fill="#111" >Marrow</text>
<text transform="translate(407.2,646.4) scale(1.03,1.0)" font-size="14" text-anchor="middle" fill="#111" >AML</text>
<text transform="translate(458.8,646.4) scale(1.06,1.0)" font-size="14" text-anchor="middle" fill="#111" >Bone</text>
<text transform="translate(458.8,659.3) scale(1.06,1.0)" font-size="14" text-anchor="middle" fill="#111" >Marrow</text>
<text transform="translate(502.35,646.4) scale(1.03,1.0)" font-size="14" text-anchor="middle" fill="#111" >AML</text>
</svg>
</body></html>
